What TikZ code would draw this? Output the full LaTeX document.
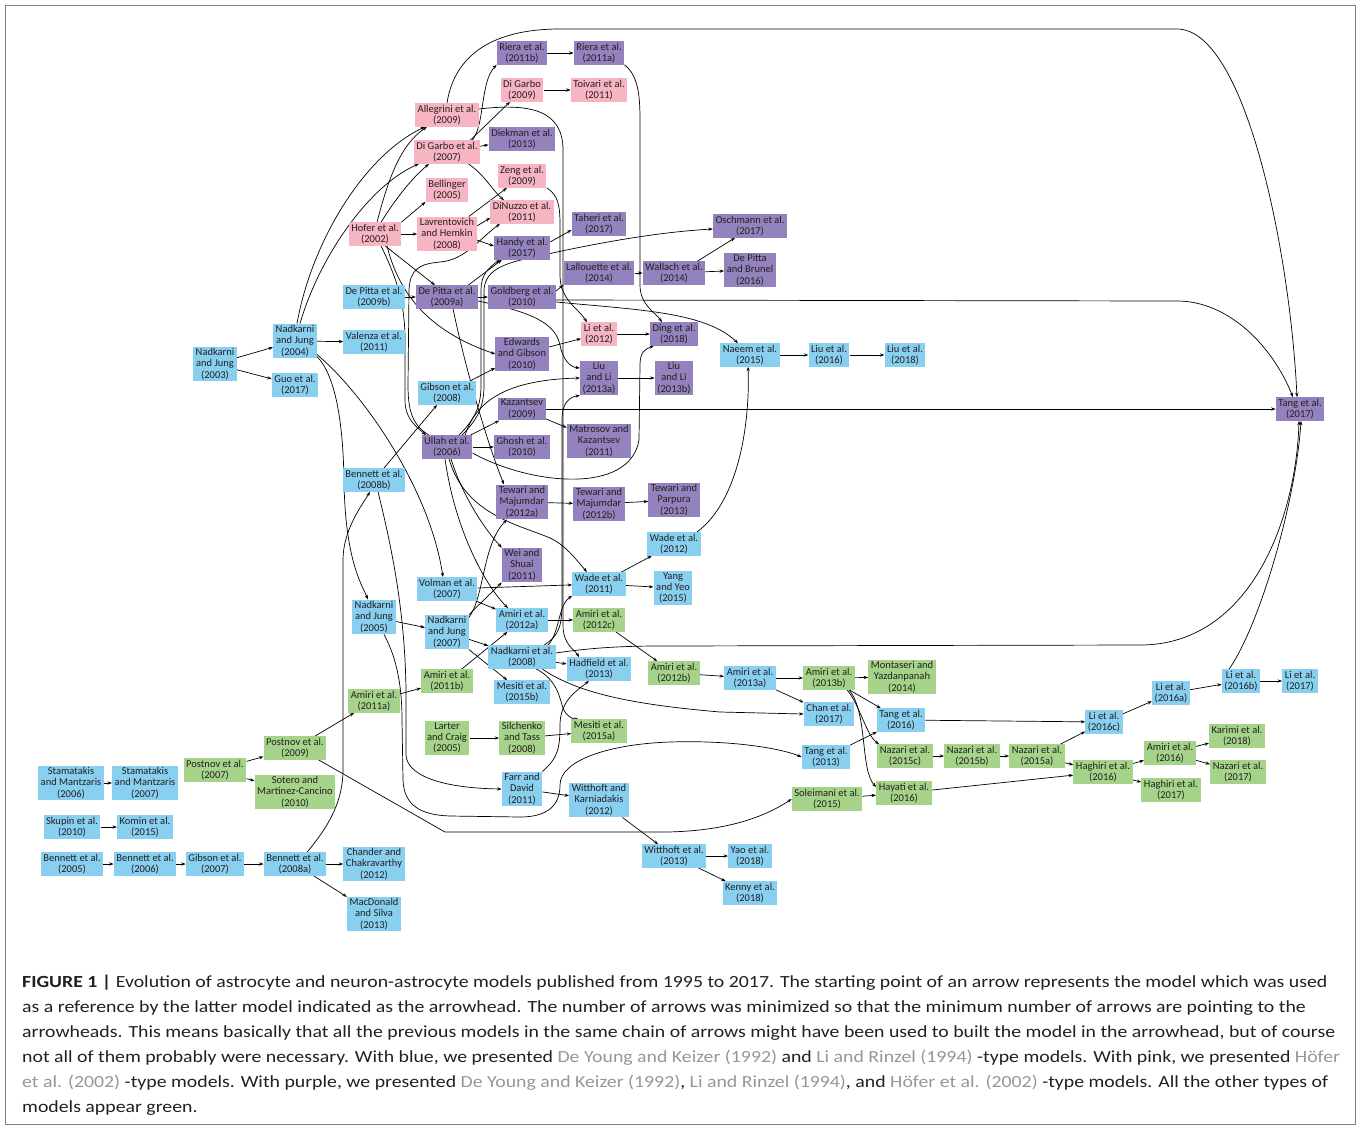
\documentclass[tikz,border=0pt]{standalone}
\usepackage{fontspec}
\setmainfont{Carlito}
\newfontfamily\capfont[FakeStretch=1.165]{Carlito}
\usetikzlibrary{arrows.meta}
\definecolor{cblue}{RGB}{137,207,240}
\definecolor{cpink}{RGB}{247,180,194}
\definecolor{cpurple}{RGB}{148,130,190}
\definecolor{cgreen}{RGB}{166,211,138}
\definecolor{txt}{RGB}{35,31,32}
\definecolor{citecol}{RGB}{150,150,150}
\newcommand\mycite[1]{\textcolor{citecol}{#1}}
\pgfdeclarelayer{bg}
\pgfsetlayers{bg,main}
\begin{document}
\begin{tikzpicture}[x=1pt,y=-1pt,
  box/.style={rectangle, inner xsep=2.5pt, inner ysep=1.6pt, align=center,
    font=\fontsize{10.5}{11.3}\selectfont, text=txt},
  nblue/.style={box, fill=cblue},
  npink/.style={box, fill=cpink},
  npurple/.style={box, fill=cpurple},
  ngreen/.style={box, fill=cgreen},
  arr/.style={-{Stealth[length=4.5pt,width=3.2pt]}, line width=0.7pt, black},
  capline/.style={anchor=west, inner sep=0pt, font=\capfont\fontsize{17}{20}\selectfont, text=txt}]
\useasboundingbox (0,0) rectangle (1360,1128);
\draw[gray, line width=0.8pt] (5,5) rectangle (1355,1124);

% ---------- pink ----------
\node[npink] (allegrini) at (447,115) {Allegrini et al.\\(2009)};
\node[npink] (digarbo07) at (447,152) {Di Garbo et al.\\(2007)};
\node[npink] (bellinger) at (447,190) {Bellinger\\(2005)};
\node[npink] (hofer) at (375,234) {Hofer et al.\\(2002)};
\node[npink] (lavren) at (447,234) {Lavrentovich\\and Hemkin\\(2008)};
\node[npink] (digarbo09) at (522,90) {Di Garbo\\(2009)};
\node[npink] (toivari) at (599,90) {Toivari et al.\\(2011)};
\node[npink] (zeng) at (522,176) {Zeng et al.\\(2009)};
\node[npink] (dinuzzo) at (522,212) {DiNuzzo et al.\\(2011)};
\node[npink] (li12) at (599,334) {Li et al.\\(2012)};
% ---------- purple ----------
\node[npurple] (riera11b) at (522,53) {Riera et al.\\(2011b)};
\node[npurple] (riera11a) at (599,53) {Riera et al.\\(2011a)};
\node[npurple] (diekman) at (522,139) {Diekman et al.\\(2013)};
\node[npurple] (handy) at (522,248) {Handy et al.\\(2017)};
\node[npurple] (taheri) at (599,224) {Taheri et al.\\(2017)};
\node[npurple] (oschmann) at (750,226) {Oschmann et al.\\(2017)};
\node[npurple] (lallouette) at (599,273) {Lallouette et al.\\(2014)};
\node[npurple] (wallach) at (674,273) {Wallach et al.\\(2014)};
\node[npurple] (depittabrunel) at (750,270) {De Pitta\\and Brunel\\(2016)};
\node[npurple] (depitta09a) at (447,297) {De Pitta et al.\\(2009a)};
\node[npurple] (goldberg) at (522,297) {Goldberg et al.\\(2010)};
\node[npurple] (ding) at (674,334) {Ding et al.\\(2018)};
\node[npurple] (edwards) at (522,354) {Edwards\\and Gibson\\(2010)};
\node[npurple] (liuli13a) at (599,378) {Liu\\and Li\\(2013a)};
\node[npurple] (liuli13b) at (674,378) {Liu\\and Li\\(2013b)};
\node[npurple] (kazantsev) at (522,409) {Kazantsev\\(2009)};
\node[npurple] (matrosov) at (599,441) {Matrosov and\\Kazantsev\\(2011)};
\node[npurple] (ullah) at (447,447) {Ullah et al.\\(2006)};
\node[npurple] (ghosh) at (522,447) {Ghosh et al.\\(2010)};
\node[npurple] (tang17) at (1300,409) {Tang et al.\\(2017)};
\node[npurple] (tm12a) at (522,502) {Tewari and\\Majumdar\\(2012a)};
\node[npurple] (tm12b) at (599,504) {Tewari and\\Majumdar\\(2012b)};
\node[npurple] (tp13) at (674,500) {Tewari and\\Parpura\\(2013)};
\node[npurple] (wei) at (522,565) {Wei and\\Shuai\\(2011)};
% ---------- blue ----------
\node[nblue] (depitta09b) at (374,297) {De Pitta et al.\\(2009b)};
\node[nblue] (nj04) at (295,341) {Nadkarni\\and Jung\\(2004)};
\node[nblue] (valenza) at (374,342) {Valenza et al.\\(2011)};
\node[nblue] (nj03) at (215,364) {Nadkarni\\and Jung\\(2003)};
\node[nblue] (guo) at (295,385) {Guo et al.\\(2017)};
\node[nblue] (naeem) at (750,355) {Naeem et al.\\(2015)};
\node[nblue] (liu16) at (829,355) {Liu et al.\\(2016)};
\node[nblue] (liu18) at (905,355) {Liu et al.\\(2018)};
\node[nblue] (gibson08) at (447,393) {Gibson et al.\\(2008)};
\node[nblue] (bennett08b) at (374,480) {Bennett et al.\\(2008b)};
\node[nblue] (wade12) at (674,544) {Wade et al.\\(2012)};
\node[nblue] (volman) at (447,589) {Volman et al.\\(2007)};
\node[nblue] (wade11) at (599,584) {Wade et al.\\(2011)};
\node[nblue] (yang) at (673,588) {Yang\\and Yeo\\(2015)};
\node[nblue] (nj05) at (374,617) {Nadkarni\\and Jung\\(2005)};
\node[nblue] (nj07) at (447,632) {Nadkarni\\and Jung\\(2007)};
\node[nblue] (amiri12a) at (522,620) {Amiri et al.\\(2012a)};
\node[nblue] (nadkarni08) at (522,657) {Nadkarni et al.\\(2008)};
\node[nblue] (hadfield) at (599,669) {Hadfield et al.\\(2013)};
\node[nblue] (mesiti15b) at (522,692) {Mesiti et al.\\(2015b)};
\node[nblue] (amiri13a) at (750,678) {Amiri et al.\\(2013a)};
\node[nblue] (chan) at (829,714) {Chan et al.\\(2017)};
\node[nblue] (tang16) at (901,720) {Tang et al.\\(2016)};
\node[nblue] (li16a) at (1171,693) {Li et al.\\(2016a)};
\node[nblue] (li16b) at (1241,681) {Li et al.\\(2016b)};
\node[nblue] (li17) at (1300,681) {Li et al.\\(2017)};
\node[nblue] (li16c) at (1104,722) {Li et al.\\(2016c)};
\node[nblue] (tang13) at (826,757) {Tang et al.\\(2013)};
\node[nblue] (stam06) at (71,783) {Stamatakis\\and Mantzaris\\(2006)};
\node[nblue] (stam07) at (145,783) {Stamatakis\\and Mantzaris\\(2007)};
\node[nblue] (farr) at (522,789) {Farr and\\David\\(2011)};
\node[nblue] (wk12) at (599,800) {Witthoft and\\Karniadakis\\(2012)};
\node[nblue] (skupin) at (72,827) {Skupin et al.\\(2010)};
\node[nblue] (komin) at (145,827) {Komin et al.\\(2015)};
\node[nblue] (bennett05) at (72,864) {Bennett et al.\\(2005)};
\node[nblue] (bennett06) at (145,864) {Bennett et al.\\(2006)};
\node[nblue] (gibson07) at (215,864) {Gibson et al.\\(2007)};
\node[nblue] (bennett08a) at (295,864) {Bennett et al.\\(2008a)};
\node[nblue] (chander) at (374,864) {Chander and\\Chakravarthy\\(2012)};
\node[nblue] (witthoft13) at (674,856) {Witthoft et al.\\(2013)};
\node[nblue] (yao) at (750,856) {Yao et al.\\(2018)};
\node[nblue] (macdonald) at (374,914) {MacDonald\\and Silva\\(2013)};
\node[nblue] (kenny) at (750,893) {Kenny et al.\\(2018)};
% ---------- green ----------
\node[ngreen] (amiri12c) at (599,620) {Amiri et al.\\(2012c)};
\node[ngreen] (amiri11b) at (447,681) {Amiri et al.\\(2011b)};
\node[ngreen] (amiri12b) at (674,673) {Amiri et al.\\(2012b)};
\node[ngreen] (amiri11a) at (374,701) {Amiri et al.\\(2011a)};
\node[ngreen] (amiri13b) at (829,678) {Amiri et al.\\(2013b)};
\node[ngreen] (montaseri) at (902,677) {Montaseri and\\Yazdanpanah\\(2014)};
\node[ngreen] (larter) at (447,738) {Larter\\and Craig\\(2005)};
\node[ngreen] (silchenko) at (522,738) {Silchenko\\and Tass\\(2008)};
\node[ngreen] (mesiti15a) at (599,731) {Mesiti et al.\\(2015a)};
\node[ngreen] (postnov09) at (295,748) {Postnov et al.\\(2009)};
\node[ngreen] (karimi) at (1237,736) {Karimi et al.\\(2018)};
\node[ngreen] (nazari15c) at (905,756) {Nazari et al.\\(2015c)};
\node[ngreen] (nazari15b) at (972,756) {Nazari et al.\\(2015b)};
\node[ngreen] (nazari15a) at (1037,756) {Nazari et al.\\(2015a)};
\node[ngreen] (amiri16) at (1170,753) {Amiri et al.\\(2016)};
\node[ngreen] (postnov07) at (215,770) {Postnov et al.\\(2007)};
\node[ngreen] (sotero) at (295,792) {Sotero and\\Martinez-Cancino\\(2010)};
\node[ngreen] (haghiri16) at (1103,772) {Haghiri et al.\\(2016)};
\node[ngreen] (nazari17) at (1238,772) {Nazari et al.\\(2017)};
\node[ngreen] (hayati) at (904,793) {Hayati et al.\\(2016)};
\node[ngreen] (haghiri17) at (1171,790) {Haghiri et al.\\(2017)};
\node[ngreen] (soleimani) at (827,799) {Soleimani et al.\\(2015)};

\begin{pgfonlayer}{bg}
% ---------- straight connectors ----------
\draw[arr] (riera11b) -- (riera11a);
\draw[arr] (digarbo09) -- (toivari);
\draw[arr] (digarbo07) -- (diekman);
\draw[arr] ([xshift=-10pt]digarbo07.north east) -- ([xshift=-12pt]digarbo09.south);
\draw[arr] (hofer) -- (lavren);
\draw[arr] (hofer.north east) -- (bellinger.south west);
\draw[arr] ([xshift=10pt]hofer.south) -- ([xshift=-12pt]depitta09a.north);
\draw[arr] ([xshift=-8pt]lavren.north east) -- ([xshift=-15pt]zeng.south);
\draw[arr] ([yshift=8pt]lavren.east) -- ([yshift=-6pt]dinuzzo.west);
\draw[arr] ([yshift=-6pt]lavren.east) -- ([yshift=2pt]handy.west);
\draw[arr] ([yshift=6pt]handy.east) -- ([yshift=-6pt]taheri.west);
\draw[arr] (depitta09b) -- (depitta09a);
\draw[arr] (depitta09a) -- (goldberg);
\draw[arr] ([xshift=-10pt]depitta09a.north east) -- ([xshift=8pt]handy.south west);
\draw[arr] ([yshift=6pt]goldberg.east) -- (lallouette.south west);
\draw[arr] (lallouette) -- (wallach);
\draw[arr] ([xshift=-8pt]wallach.north east) -- ([xshift=-15pt]oschmann.south);
\draw[arr] (wallach) -- (depittabrunel);
\draw[arr] (nj03) -- (nj04);
\draw[arr] (nj03) -- (guo);
\draw[arr] (nj04) -- (valenza);
\draw[arr] (edwards) -- (li12);
\draw[arr] (li12) -- (ding);
\draw[arr] (gibson08) -- (edwards);
\draw[arr] (liuli13a) -- (liuli13b);
\draw[arr] (naeem) -- (liu16);
\draw[arr] (liu16) -- (liu18);
\draw[arr] (ullah) -- (kazantsev);
\draw[arr] (ullah) -- (ghosh);
\draw[arr] (kazantsev) -- (matrosov);
\draw[arr] (kazantsev) -- (tang17);
\draw[arr] (bennett08b) -- (gibson08);
\draw[arr] (tm12a) -- (tm12b);
\draw[arr] (tm12b) -- (tp13);
\draw[arr] (wade11) -- (wade12);
\draw[arr] (wade11) -- (yang);
\draw[arr] (volman) -- (wade11);
\draw[arr] (volman) -- (amiri12a);
\draw[arr] (nj05) -- (nj07);
\draw[arr] (nj07) -- (nadkarni08);
\draw[arr] (nj07) -- (mesiti15b);
\draw[arr] (nj07.north east) -- (wei.south west);
\draw[arr] (amiri12a) -- (amiri12c);
\draw[arr] (amiri12c) -- (amiri12b);
\draw[arr] (amiri12b) -- (amiri13a);
\draw[arr] (amiri13a) -- (amiri13b);
\draw[arr] (amiri13a) -- (chan);
\draw[arr] (amiri13b) -- (montaseri);
\draw[arr] (amiri13b) -- (tang16);
\draw[arr] (amiri11a) -- (amiri11b);
\draw[arr] (amiri11b) -- (amiri12a);
\draw[arr] (nadkarni08) -- (hadfield);
\draw[arr] (larter) -- (silchenko);
\draw[arr] (silchenko) -- (mesiti15a);
\draw[arr] (postnov07) -- (postnov09);
\draw[arr] (postnov07) -- (sotero);
\draw[arr] (postnov09) -- (amiri11a);
\draw[arr] (stam06) -- (stam07);
\draw[arr] (skupin) -- (komin);
\draw[arr] (bennett05) -- (bennett06);
\draw[arr] (bennett06) -- (gibson07);
\draw[arr] (gibson07) -- (bennett08a);
\draw[arr] (bennett08a) -- (chander);
\draw[arr] (bennett08a) -- (macdonald);
\draw[arr] (farr) -- (wk12);
\draw[arr] (wk12) -- (witthoft13);
\draw[arr] (witthoft13) -- (yao);
\draw[arr] (witthoft13) -- (kenny);
\draw[arr] (tang13) -- (tang16);
\draw[arr] (tang16) -- (li16c);
\draw[arr] (nazari15c) -- (nazari15b);
\draw[arr] (nazari15b) -- (nazari15a);
\draw[arr] (nazari15a) -- (li16c);
\draw[arr] (nazari15a) -- (haghiri16);
\draw[arr] (soleimani) -- (hayati);
\draw[arr] (hayati) -- (haghiri16);
\draw[arr] (haghiri16) -- (amiri16);
\draw[arr] (haghiri16) -- (haghiri17);
\draw[arr] (amiri16) -- (karimi);
\draw[arr] (amiri16) -- (nazari17);
\draw[arr] (li16c) -- (li16a);
\draw[arr] (li16a) -- (li16b);
\draw[arr] (li16b) -- (li17);

% ---------- curved connectors ----------
\draw[arr] (allegrini.north) .. controls (452,70) and (475,29) .. (560,29) -- (1177,29) .. controls (1245,29) and (1290,250) .. ([xshift=-3pt]tang17.north);
\draw[arr] ([yshift=-3pt]goldberg.east) -- (1177,301) .. controls (1228,301) and (1272,345) .. ([xshift=-7pt]tang17.north);
\draw[arr] ([yshift=-5pt]goldberg.east) .. controls (640,310) and (705,312) .. ([xshift=-12pt]naeem.north);
\draw[arr] ([yshift=4pt]nadkarni08.east) .. controls (590,648) and (620,646) .. (660,646) -- (1140,645) .. controls (1250,645) and (1296,520) .. ([xshift=-1pt]tang17.south);
\draw[arr] ([xshift=-12pt]li16b.north) .. controls (1260,625) and (1296,500) .. ([xshift=1pt]tang17.south);
\draw[arr] ([yshift=-6pt]ullah.east) .. controls (530,485) and (630,495) .. (639,440) -- (640,365) .. controls (640,352) and (645,349) .. ([xshift=-20pt]ding.south);
\draw[arr] (riera11a.south east) .. controls (638,75) and (640,95) .. (640,120) -- (640,285) .. controls (640,305) and (655,312) .. ([xshift=-12pt]ding.north);
\draw[arr] (zeng.south east) .. controls (558,195) and (560,205) .. (560,225) -- (560,275) .. controls (560,300) and (578,308) .. ([xshift=-12pt]li12.north);
\draw[arr] ([yshift=6pt]allegrini.east) .. controls (530,103) and (563,110) .. (563,150) -- (563,625) .. controls (563,645) and (575,650) .. ([xshift=-20pt]hadfield.north);
\draw[arr] ([yshift=-4pt]depitta09a.east) .. controls (530,312) and (555,322) .. (560,345) .. controls (563,360) and (570,367) .. ([yshift=10pt]liuli13a.west);
\draw[arr] ([xshift=18pt]ullah.north) .. controls (475,405) and (500,380) .. (liuli13a.west);
\draw[arr] ([xshift=22pt]nadkarni08.north) .. controls (560,635) and (562,625) .. (562,600) -- (562,420) .. controls (562,402) and (570,397) .. (liuli13a.south west);
\draw[arr] ([xshift=26pt]nadkarni08.north) .. controls (560,632) and (558,605) .. (wade11.south west);
\draw[arr] ([xshift=2pt]ullah.south) .. controls (465,515) and (520,525) .. (550,538) .. controls (565,545) and (575,558) .. ([xshift=-12pt]wade11.north);
\draw[arr] ([xshift=-2pt]ullah.south) .. controls (455,530) and (485,585) .. ([xshift=-14pt]amiri12a.north);
\draw[arr] ([xshift=4pt]ullah.south) .. controls (462,495) and (485,530) .. (wei.north west);
\draw[arr] ([xshift=-18pt]ullah.north) .. controls (412,425) and (408,410) .. (408,385) -- (409,290) .. controls (410,270) and (418,264) .. (440,262) .. controls (465,260) and (478,240) .. ([xshift=-22pt]dinuzzo.south);
\draw[arr] ([xshift=6pt]hofer.south) .. controls (395,275) and (405,300) .. (405,340) -- (405,400) .. controls (405,420) and (418,428) .. ([xshift=-21pt]ullah.north);
\draw[arr] ([xshift=12pt]hofer.south) .. controls (398,290) and (425,330) .. (edwards.west);
\draw[arr] ([xshift=2pt]hofer.north) .. controls (388,180) and (400,145) .. ([xshift=-20pt]allegrini.south);
\draw[arr] ([xshift=6pt]hofer.north) .. controls (395,200) and (410,180) .. ([xshift=-18pt]digarbo07.south);
\draw[arr] ([xshift=2pt]nj04.north) .. controls (312,240) and (365,155) .. ([xshift=-22pt]allegrini.south);
\draw[arr] ([xshift=5pt]nj04.north) .. controls (320,255) and (370,185) .. ([xshift=-28pt]digarbo07.south);
\draw[arr] ([yshift=4pt]nj04.south east) .. controls (365,395) and (430,490) .. ([xshift=-4pt]volman.north);
\draw[arr] ([yshift=2pt]nj04.south east) .. controls (335,375) and (343,420) .. (344,480) .. controls (345,560) and (362,585) .. ([xshift=-6pt]nj05.north);
\draw[arr] ([xshift=12pt]bennett08a.north) .. controls (330,825) and (343,800) .. (343,770) -- (343,560) .. controls (343,530) and (362,505) .. ([xshift=-4pt]bennett08b.south);
\draw[arr] ([xshift=4pt]bennett08b.south) .. controls (395,560) and (405,620) .. (406,690) -- (406,755) .. controls (407,775) and (440,788) .. (farr.west);
\draw[arr] ([xshift=10pt]nj05.south) .. controls (398,660) and (402,690) .. (402,720) -- (403,780) .. controls (404,805) and (420,815) .. (450,816) -- (520,817) .. controls (548,817) and (560,805) .. (560,785) .. controls (560,760) and (610,744) .. (670,742) .. controls (730,740) and (780,748) .. (tang13.west);
\draw[arr] ([xshift=-8pt]postnov09.south east) -- (445,832) -- (667,832) .. controls (720,831) and (760,820) .. (soleimani.west);
\draw[arr] (farr.north east) .. controls (558,758) and (560,748) .. (560,725) .. controls (560,700) and (578,690) .. ([xshift=-10pt]hadfield.south);
\draw[arr] ([xshift=14pt]nadkarni08.south) .. controls (558,680) and (560,700) .. (563,708) .. controls (566,716) and (572,719) .. ([xshift=-20pt]mesiti15a.north);
\draw[arr] ([xshift=20pt]nadkarni08.south) .. controls (580,695) and (640,705) .. (720,712) -- (chan.west);
\draw[arr] ([yshift=-3pt]nj07.north east) .. controls (485,595) and (482,545) .. ([xshift=-15pt]tm12a.south);
\draw[arr] ([xshift=6pt]depitta09a.south) .. controls (468,380) and (490,450) .. ([xshift=-18pt]tm12a.north);
\draw[arr] ([xshift=-4pt]wade12.north east) .. controls (740,500) and (750,420) .. ([xshift=-2pt]naeem.south);
\draw[arr] ([xshift=12pt]ullah.north) .. controls (476,418) and (481,405) .. (481,385) -- (481,290) .. controls (481,275) and (488,268) .. ([xshift=6pt]handy.south west);
\draw[arr] ([xshift=15pt]ullah.north) .. controls (479,418) and (484,405) .. (484,385) -- (484,290) .. controls (485,272) and (500,264) .. (530,258) .. controls (600,242) and (660,232) .. ([yshift=-3pt]oschmann.west);
\draw[arr] ([xshift=-8pt]digarbo07.north east) .. controls (485,125) and (480,82) .. (riera11b.south west);
\draw[arr] ([xshift=-12pt]digarbo07.south east) .. controls (485,175) and (492,190) .. ([xshift=-18pt]dinuzzo.north);
\draw[arr] ([xshift=-8pt]amiri13b.south east) .. controls (860,705) and (866,735) .. ([xshift=2pt]nazari15c.north west);
\draw[arr] ([xshift=-6pt]amiri13b.south east) .. controls (868,712) and (860,770) .. ([yshift=6pt]hayati.west);
\end{pgfonlayer}

% ---------- caption ----------
\node[capline] (cap1) at (22,983) {\textbf{FIGURE 1 |} Evolution of astrocyte and neuron-astrocyte models published from 1995 to 2017. The starting point of an arrow represents the model which was used};
\node[capline] (cap2) at (22,1008) {as a reference by the latter model indicated as the arrowhead. The number of arrows was minimized so that the minimum number of arrows are pointing to the};
\node[capline] (cap3) at (22,1033) {arrowheads. This means basically that all the previous models in the same chain of arrows might have been used to built the model in the arrowhead, but of course};
\node[capline] (cap4) at (22,1058) {not all of them probably were necessary. With blue, we presented \mycite{De Young and Keizer (1992)} and \mycite{Li and Rinzel (1994)} -type models. With pink, we presented \mycite{Höfer}};
\node[capline] (cap5) at (22,1083) {\mycite{et al. (2002)} -type models. With purple, we presented \mycite{De Young and Keizer (1992)}, \mycite{Li and Rinzel (1994)}, and \mycite{Höfer et al. (2002)} -type models. All the other types of};
\node[capline] (cap6) at (22,1108) {models appear green.};
\end{tikzpicture}
\end{document}
